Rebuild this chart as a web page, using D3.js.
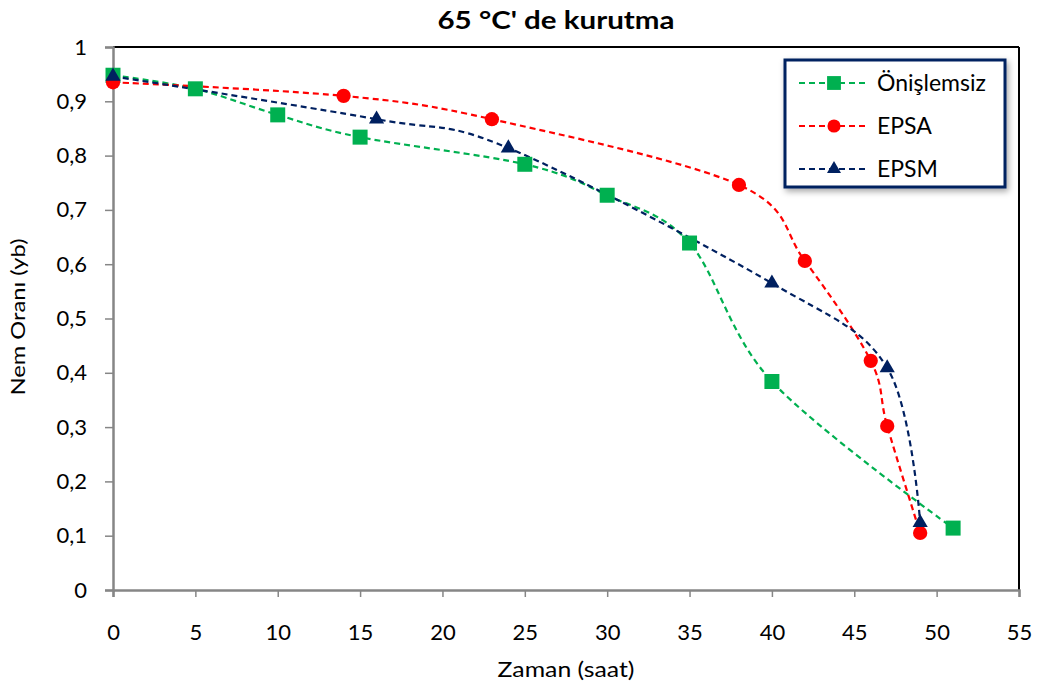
<!DOCTYPE html>
<html>
<head>
<meta charset="utf-8">
<script src="https://cdn.jsdelivr.net/npm/d3@7"></script>
<style>
  body { margin: 0; background: #fff; }
  svg { font-family: Lato, "Open Sans", sans-serif; }
</style>
</head>
<body>
<svg id="chart"></svg>
<script>
// ---------------- data ----------------
const xTicks = [0, 5, 10, 15, 20, 25, 30, 35, 40, 45, 50, 55];
const yTicks = [0, 0.1, 0.2, 0.3, 0.4, 0.5, 0.6, 0.7, 0.8, 0.9, 1];

const onislemsizX = [0, 5, 10, 15, 25, 30, 35, 40, 51];
const onislemsizY = [0.948, 0.923, 0.875, 0.834, 0.784, 0.727, 0.639, 0.384, 0.114];

const epsaX = [0, 14, 23, 38, 42, 46, 47, 49];
const epsaY = [0.935, 0.910, 0.867, 0.746, 0.606, 0.422, 0.302, 0.105];

const epsmX = [0, 16, 24, 40, 47, 49];
const epsmY = [0.946, 0.867, 0.814, 0.565, 0.409, 0.124];

const seriesNames = ['Önişlemsiz', 'EPSA', 'EPSM'];

// ---------------- layout ----------------
const width = 1040, height = 684;
const m = { left: 113, right: 21, top: 47, bottom: 94 };

const svg = d3.select('#chart')
  .attr('width', width)
  .attr('height', height);

const x = d3.scaleLinear().domain([0, 55]).range([m.left, width - m.right]);
const y = d3.scaleLinear().domain([0, 1]).range([height - m.bottom, m.top]);

const series = [
  { name: seriesNames[0], xs: onislemsizX, ys: onislemsizY, color: '#00b050', shape: d3.symbolSquare, size: 225 },
  { name: seriesNames[1], xs: epsaX, ys: epsaY, color: '#ff0000', shape: d3.symbolCircle, size: 160 },
  { name: seriesNames[2], xs: epsmX, ys: epsmY, color: '#002060', shape: d3.symbolTriangle, size: 100 }
];

// ---------------- frame ----------------
svg.append('line')   // top border
  .attr('x1', x(0)).attr('x2', x(55))
  .attr('y1', y(1)).attr('y2', y(1))
  .attr('stroke', '#000').attr('stroke-width', 2);
svg.append('line')   // right border
  .attr('x1', x(55)).attr('x2', x(55))
  .attr('y1', y(1)).attr('y2', y(0))
  .attr('stroke', '#000').attr('stroke-width', 2);

// ---------------- axes ----------------
const fmt = d => d === 0 || d === 1 ? String(d) : d3.format('.1f')(d).replace('.', ',');

const xAxis = svg.append('g')
  .attr('transform', `translate(0,${y(0)})`)
  .call(d3.axisBottom(x).tickValues(xTicks).tickSize(7).tickPadding(27).tickFormat(d3.format('d')));
const yAxis = svg.append('g')
  .attr('transform', `translate(${x(0)},0)`)
  .call(d3.axisLeft(y).tickValues(yTicks).tickSize(8).tickPadding(18).tickFormat(fmt));

[xAxis, yAxis].forEach(g => {
  g.attr('font-size', 22).attr('font-family', 'Lato, "Open Sans", sans-serif');
  g.select('.domain').attr('stroke', '#868686').attr('stroke-width', 2.5);
  g.selectAll('.tick line').attr('stroke', '#868686').attr('stroke-width', 1.5);
  g.selectAll('.tick text').attr('fill', '#000');
});

// ---------------- titles ----------------
svg.append('text')
  .attr('x', 556).attr('y', 29)
  .attr('text-anchor', 'middle')
  .attr('textLength', 237).attr('lengthAdjust', 'spacingAndGlyphs')
  .style('font-size', '24px').style('font-weight', 'bold')
  .text("65 °C' de kurutma");

svg.append('text')
  .attr('x', 566).attr('y', 677)
  .attr('text-anchor', 'middle')
  .attr('textLength', 137).attr('lengthAdjust', 'spacingAndGlyphs')
  .style('font-size', '22px')
  .text('Zaman (saat)');

svg.append('text')
  .attr('transform', `translate(25,317) rotate(-90)`)
  .attr('text-anchor', 'middle')
  .attr('textLength', 157).attr('lengthAdjust', 'spacingAndGlyphs')
  .style('font-size', '20px')
  .text('Nem Oranı (yb)');

// ---------------- lines + markers ----------------
const line = d3.line()
  .x(d => x(d[0]))
  .y(d => y(d[1]))
  .curve(d3.curveCatmullRom.alpha(0));

series.forEach(s => {
  const pts = s.xs.map((v, i) => [v, s.ys[i]]);
  svg.append('path')
    .datum(pts)
    .attr('d', line)
    .attr('fill', 'none')
    .attr('stroke', s.color)
    .attr('stroke-width', 2.2)
    .attr('stroke-dasharray', '6,4');
});

series.forEach(s => {
  const pts = s.xs.map((v, i) => [v, s.ys[i]]);
  svg.append('g')
    .selectAll('path')
    .data(pts)
    .join('path')
    .attr('transform', d => `translate(${x(d[0])},${y(d[1])})`)
    .attr('d', d3.symbol().type(s.shape).size(s.size))
    .attr('fill', s.color);
});

// ---------------- legend ----------------
const defs = svg.append('defs');
const filt = defs.append('filter').attr('id', 'shadow')
  .attr('x', '-10%').attr('y', '-10%').attr('width', '130%').attr('height', '130%');
filt.append('feDropShadow')
  .attr('dx', 2).attr('dy', 3).attr('stdDeviation', 3)
  .attr('flood-color', '#000').attr('flood-opacity', 0.35);

const legend = svg.append('g').attr('transform', 'translate(785,60)');
legend.append('rect')
  .attr('width', 220).attr('height', 127)
  .attr('fill', '#fff')
  .attr('stroke', '#002060').attr('stroke-width', 3)
  .attr('filter', 'url(#shadow)');

series.forEach((s, i) => {
  const ly = 23 + i * 43;
  const row = legend.append('g').attr('transform', `translate(0,${ly})`);
  row.append('line')
    .attr('x1', 14).attr('x2', 84)
    .attr('stroke', s.color).attr('stroke-width', 2)
    .attr('stroke-dasharray', '6,4');
  row.append('path')
    .attr('transform', 'translate(49,0)')
    .attr('d', d3.symbol().type(s.shape).size(s.size * 0.85))
    .attr('fill', s.color);
  row.append('text')
    .attr('x', 92).attr('y', 0)
    .attr('dy', '0.35em')
    .style('font-size', '23px')
    .text(s.name);
});
</script>
</body>
</html>
